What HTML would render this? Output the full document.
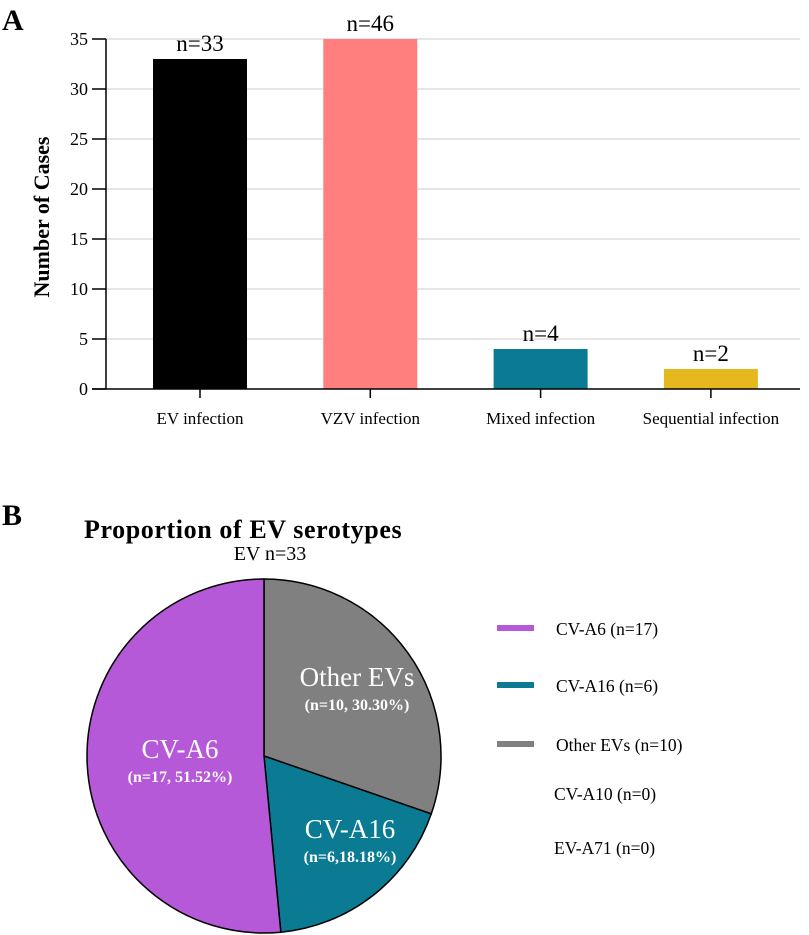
<!DOCTYPE html>
<html><head><meta charset="utf-8"><style>
body{margin:0;background:#fff;}
svg{display:block;font-family:"Liberation Serif",serif;}
</style></head><body>
<svg width="809" height="935" viewBox="0 0 809 935">
<text x="2" y="30" font-size="30" font-weight="bold">A</text>
<g id="bar"></g>
<text x="2" y="525" font-size="30" font-weight="bold">B</text>
<text x="84" y="538" font-size="26" font-weight="bold" letter-spacing="0.6">Proportion of EV serotypes</text>
<text x="270" y="560" font-size="20" text-anchor="middle">EV n=33</text>
<g id="pie"></g>
<g id="legend"></g>
</svg>
<script>
const categories=["EV infection","VZV infection","Mixed infection","Sequential infection"];
const values=[33,35,4,2];
const valueLabels=["n=33","n=46","n=4","n=2"];
const barColors=["#000000","#ff7f7f","#0a7b93","#e6b820"];
const yTicks=[0,5,10,15,20,25,30,35];
const pieLabels=["Other EVs","CV-A16","CV-A6"];
const pieValues=[10,6,17];
const pieSub=["(n=10, 30.30%)","(n=6,18.18%)","(n=17, 51.52%)"];
const pieColors=["#808080","#0a7b93","#b659d8"];
const legendItems=["CV-A6 (n=17)","CV-A16 (n=6)","Other EVs  (n=10)","CV-A10 (n=0)","EV-A71 (n=0)"];
const legendColors=["#b659d8","#0a7b93","#808080",null,null];
const NS="http://www.w3.org/2000/svg";
function mk(t,a,p,txt){const e=document.createElementNS(NS,t);for(const k in a)e.setAttribute(k,a[k]);if(txt!=null)e.textContent=txt;p.appendChild(e);return e;}
const bar=document.getElementById('bar');
const y0=389,pxu=10,xL=106,xR=800;
const y=v=>y0-v*pxu;
const x=i=>200+i*170.3;
yTicks.forEach(t=>{
 if(t>0){const g=mk('line',{x1:xL,x2:xR,y1:y(t),y2:y(t),stroke:'#d8d8d8','stroke-width':1.2},bar);}
 const tk=mk('line',{x1:xL-14,x2:xL,y1:y(t),y2:y(t),stroke:'#000','stroke-width':1.5},bar);
 const l=mk('text',{x:xL-18,y:y(t)+6,'font-size':18,'text-anchor':'end'},bar,t);
});
categories.forEach((c,i)=>{
 const r=mk('rect',{x:x(i)-47,y:y(values[i]),width:94,height:values[i]*pxu,fill:barColors[i]},bar);
 const v=mk('text',{x:x(i),y:y(values[i])-8,'font-size':23,'text-anchor':'middle'},bar,valueLabels[i]);
 const tk=mk('line',{x1:x(i),x2:x(i),y1:y0,y2:y0+9,stroke:'#000','stroke-width':1.5},bar);
 const l=mk('text',{x:x(i),y:424,'font-size':17,'text-anchor':'middle'},bar,c);
});
let ax=mk('line',{x1:xL,x2:xL,y1:y(35),y2:y0,stroke:'#000','stroke-width':1.5},bar);
ax=mk('line',{x1:xL-14,x2:xR,y1:y0,y2:y0,stroke:'#000','stroke-width':1.5},bar);
const yt=mk('text',{x:0,y:0,'font-size':22,'font-weight':'bold','text-anchor':'middle',transform:'translate(49,217) rotate(-90)'},bar,'Number of Cases');
const pie=document.getElementById('pie');
const cx=264,cy=756,R=177;const tot=pieValues.reduce((a,b)=>a+b,0);
let a0=0;
const pt=(a,r)=>[cx+r*Math.sin(a),cy-r*Math.cos(a)];
const labelPos=[[357,686],[350,838],[180,758]];
pieValues.forEach((v,i)=>{
 const a1=a0+v/tot*2*Math.PI;const p0=pt(a0,R),p1=pt(a1,R);const lg=(a1-a0)>Math.PI?1:0;
 const s=mk('path',{d:`M${cx},${cy}L${p0[0]},${p0[1]}A${R},${R} 0 ${lg} 1 ${p1[0]},${p1[1]}Z`,fill:pieColors[i],stroke:'#000','stroke-width':1.5},pie);
 
 const lp=labelPos[i];
 const t=mk('text',{x:lp[0],y:lp[1],'font-size':27,fill:'#fff','text-anchor':'middle'},pie,pieLabels[i]);
 const t2=mk('text',{x:lp[0],y:lp[1]+24,'font-size':16,'font-weight':'bold',fill:'#fff','text-anchor':'middle'},pie,pieSub[i]);
 a0=a1;
});
const lgd=document.getElementById('legend');
const ly=[635,692,751,800,854];
legendItems.forEach((t,i)=>{
 if(legendColors[i]){const r=mk('rect',{x:497,y:ly[i]-10,width:37,height:6,fill:legendColors[i]},lgd);}
 const tx=mk('text',{x:i<3?556:554,y:ly[i],'font-size':17.5},lgd,t);
});
</script>
</body></html>
